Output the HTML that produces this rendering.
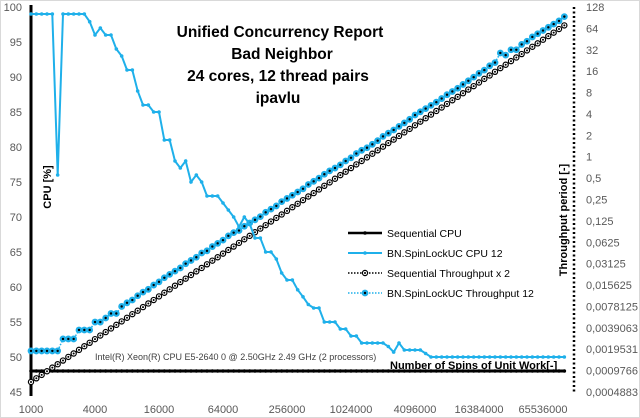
<!DOCTYPE html>
<html><head><meta charset="utf-8">
<style>
html,body{margin:0;padding:0;background:#fff;}
svg{display:block;font-family:"Liberation Sans",sans-serif;}
</style></head>
<body>
<svg id="chart" width="640" height="418" viewBox="0 0 640 418">
<rect x="0.5" y="0.5" width="639" height="417" fill="#fff" stroke="#d9d9d9"/>
<g id="grid"></g>
<g id="series"></g>
<text x="280" y="37" text-anchor="middle" font-size="15.5" font-weight="bold">Unified Concurrency Report</text>
<text x="282" y="59" text-anchor="middle" font-size="15.5" font-weight="bold">Bad Neighbor</text>
<text x="278" y="81" text-anchor="middle" font-size="15.5" font-weight="bold">24 cores, 12 thread pairs</text>
<text x="278" y="103" text-anchor="middle" font-size="15.5" font-weight="bold">ipavlu</text>
<text transform="translate(51,187) rotate(-90)" text-anchor="middle" font-size="11" font-weight="bold">CPU [%]</text>
<text transform="translate(567,220) rotate(-90)" text-anchor="middle" font-size="11" font-weight="bold">Throughput  period [-]</text>
<text x="95" y="360" font-size="9" fill="#404040">Intel(R) Xeon(R) CPU E5-2640 0 @ 2.50GHz   2.49 GHz  (2 processors)</text>
<text x="390" y="369" font-size="11" font-weight="bold">Number of Spins of Unit Work[-]</text>
<g id="legend"></g>
</svg>
<script>
const xTickLabels = ["1000","4000","16000","64000","256000","1024000","4096000","16384000","65536000"];
const leftTicks = [100,95,90,85,80,75,70,65,60,55,50,45];
const rightTickLabels = ["128","64","32","16","8","4","2","1","0,5","0,25","0,125","0,0625","0,03125","0,015625","0,0078125","0,0039063","0,0019531","0,0009766","0,0004883"];
const rightTickExp = [7,6,5,4,3,2,1,0,-1,-2,-3,-4,-5,-6,-7,-8,-9,-10,-11];
const seqCpu = Array(101).fill(48);
const spinCpu = [99,99,99,99,99,76,99,99,99,99,99,97.9,96,97,96,96,94,93,91,91,88,86,86,85,85,81,81,78,77,78,75,76,75,73,73,73,72,71,70,68.6,70,69,67,67,65,65,64,62,61,61,59.6,58.6,57.5,57,57,55,55,55,54,54,53,53,52,52,52,52,52,51.5,50.7,52,51,51,51,51,50.5,50,50,50,50,50,50,50,50,50,50,50,50,50,50,50,50,50,50,50,50,50,50,50,50,50,50];
const seqThroughputLog2 = [-10.53,-10.36,-10.2,-10.03,-9.86,-9.7,-9.53,-9.36,-9.2,-9.03,-8.86,-8.7,-8.53,-8.36,-8.2,-8.03,-7.86,-7.7,-7.53,-7.36,-7.2,-7.03,-6.86,-6.7,-6.53,-6.36,-6.2,-6.03,-5.86,-5.7,-5.53,-5.36,-5.2,-5.03,-4.86,-4.7,-4.53,-4.36,-4.2,-4.03,-3.86,-3.7,-3.53,-3.36,-3.2,-3.03,-2.86,-2.7,-2.53,-2.36,-2.2,-2.03,-1.86,-1.7,-1.53,-1.36,-1.2,-1.03,-0.86,-0.7,-0.53,-0.36,-0.2,-0.03,0.14,0.3,0.47,0.64,0.8,0.97,1.14,1.3,1.47,1.64,1.8,1.97,2.14,2.3,2.47,2.64,2.8,2.97,3.14,3.3,3.47,3.64,3.8,3.97,4.14,4.3,4.47,4.64,4.8,4.97,5.14,5.3,5.47,5.64,5.8,5.97,6.14];
const spinThroughputLog2 = [-9.08,-9.08,-9.08,-9.08,-9.08,-9.08,-8.52,-8.52,-8.52,-8.1,-8.1,-8.1,-7.73,-7.73,-7.54,-7.33,-7.33,-7.0,-6.83,-6.7,-6.5,-6.33,-6.2,-6.0,-5.85,-5.66,-5.5,-5.35,-5.2,-5.0,-4.85,-4.7,-4.5,-4.4,-4.2,-4.05,-3.9,-3.7,-3.55,-3.45,-3.25,-3.1,-2.95,-2.8,-2.6,-2.45,-2.3,-2.1,-1.95,-1.8,-1.65,-1.5,-1.3,-1.15,-1.0,-0.82,-0.66,-0.53,-0.38,-0.2,-0.05,0.15,0.3,0.42,0.58,0.75,0.95,1.1,1.25,1.42,1.58,1.75,1.95,2.1,2.25,2.4,2.55,2.72,2.9,3.05,3.2,3.38,3.55,3.72,3.9,4.05,4.25,4.4,4.85,4.75,5.0,5.0,5.25,5.4,5.6,5.75,5.9,6.05,6.2,6.35,6.55];

const NS="http://www.w3.org/2000/svg";
const X0=31, PX_PER_DOUBLING=32, STEP=1/6;
const xIdx = i => X0 + i*STEP*PX_PER_DOUBLING;
const xTick = k => X0 + k*2*PX_PER_DOUBLING;
const yLeft = v => 7 + (100-v)*7;
const yRight = e => 7 + (7-e)*(385/18);
function mk(tag, attrs, parent){const el=document.createElementNS(NS,tag);for(const k in attrs)el.setAttribute(k,attrs[k]);parent.appendChild(el);return el;}
const grid=document.getElementById('grid'), ser=document.getElementById('series'), leg=document.getElementById('legend');

leftTicks.forEach(v=>{
  const t=mk('text',{x:22,y:yLeft(v)+4,'text-anchor':'end','font-size':11,fill:'#595959'},grid);
  t.textContent=v;
  
  
});
rightTickLabels.forEach((s,k)=>{
  const t=mk('text',{x:586,y:yRight(rightTickExp[k])+4,'font-size':11,fill:'#595959'},grid);
  t.textContent=s;
  
  
});
xTickLabels.forEach((s,k)=>{
  const t=mk('text',{x:xTick(k),y:413,'text-anchor':'middle','font-size':11,fill:'#595959'},grid);
  t.textContent=s;
  
  
});
const la=mk('line',{x1:31,y1:5,x2:31,y2:396,stroke:'#000','stroke-width':3},grid);


const ra=mk('line',{x1:574,y1:7,x2:574,y2:394,stroke:'#000','stroke-width':2.5,'stroke-dasharray':'2 2.5'},grid);



function pts(arr,yf){return arr.map((v,i)=>xIdx(i).toFixed(1)+','+yf(v).toFixed(1)).join(' ');}

const l1=mk('polyline',{points:pts(seqCpu,yLeft),fill:'none',stroke:'#000','stroke-width':3},ser);


seqCpu.forEach((v,i)=>{const c=mk('circle',{cx:xIdx(i),cy:yLeft(v),r:1.8,fill:'#000'},ser);

});

const l3=mk('polyline',{points:pts(seqThroughputLog2,yRight),fill:'none',stroke:'#000','stroke-width':1.5,'stroke-dasharray':'1.5 1.5'},ser);


seqThroughputLog2.forEach((v,i)=>{
  const c=mk('circle',{cx:xIdx(i),cy:yRight(v),r:2.6,fill:'#fff',stroke:'#000','stroke-width':1.2},ser);
  
  
  const d=mk('circle',{cx:xIdx(i),cy:yRight(v),r:1,fill:'#000'},ser);
  
  
});

const l4=mk('polyline',{points:pts(spinThroughputLog2,yRight),fill:'none',stroke:'#1fb0ea','stroke-width':1.5,'stroke-dasharray':'1.5 1.5'},ser);


spinThroughputLog2.forEach((v,i)=>{
  const c=mk('circle',{cx:xIdx(i),cy:yRight(v),r:3.4,fill:'#1fb0ea'},ser);
  
  
  const d=mk('circle',{cx:xIdx(i),cy:yRight(v),r:1.2,fill:'#000'},ser);
  
  
});

const l2=mk('polyline',{points:pts(spinCpu,yLeft),fill:'none',stroke:'#1fb0ea','stroke-width':2},ser);


spinCpu.forEach((v,i)=>{const c=mk('circle',{cx:xIdx(i),cy:yLeft(v),r:1.8,fill:'#1fb0ea'},ser);

});

const legendLabels=["Sequential CPU","BN.SpinLockUC CPU 12","Sequential Throughput x 2","BN.SpinLockUC Throughput 12"];
legendLabels.forEach((s,k)=>{
  const y=233+k*20;
  const g=mk('g',{},leg);
  
  
  if(k===0){mk('line',{x1:348,y1:y,x2:382,y2:y,stroke:'#000','stroke-width':2.5},g);mk('circle',{cx:365,cy:y,r:1.8,fill:'#000'},g);}
  if(k===1){mk('line',{x1:348,y1:y,x2:382,y2:y,stroke:'#1fb0ea','stroke-width':2},g);mk('circle',{cx:365,cy:y,r:1.8,fill:'#1fb0ea'},g);}
  if(k===2){mk('line',{x1:348,y1:y,x2:382,y2:y,stroke:'#000','stroke-width':1.5,'stroke-dasharray':'1.5 1.5'},g);mk('circle',{cx:365,cy:y,r:2.6,fill:'#fff',stroke:'#000','stroke-width':1.2},g);mk('circle',{cx:365,cy:y,r:1,fill:'#000'},g);}
  if(k===3){mk('line',{x1:348,y1:y,x2:382,y2:y,stroke:'#1fb0ea','stroke-width':1.5,'stroke-dasharray':'1.5 1.5'},g);mk('circle',{cx:365,cy:y,r:3.4,fill:'#1fb0ea'},g);mk('circle',{cx:365,cy:y,r:1.2,fill:'#000'},g);}
  const t=mk('text',{x:387,y:y+4,'font-size':10.5,fill:'#000'},g);
  t.textContent=s;
});
</script>
</body></html>
